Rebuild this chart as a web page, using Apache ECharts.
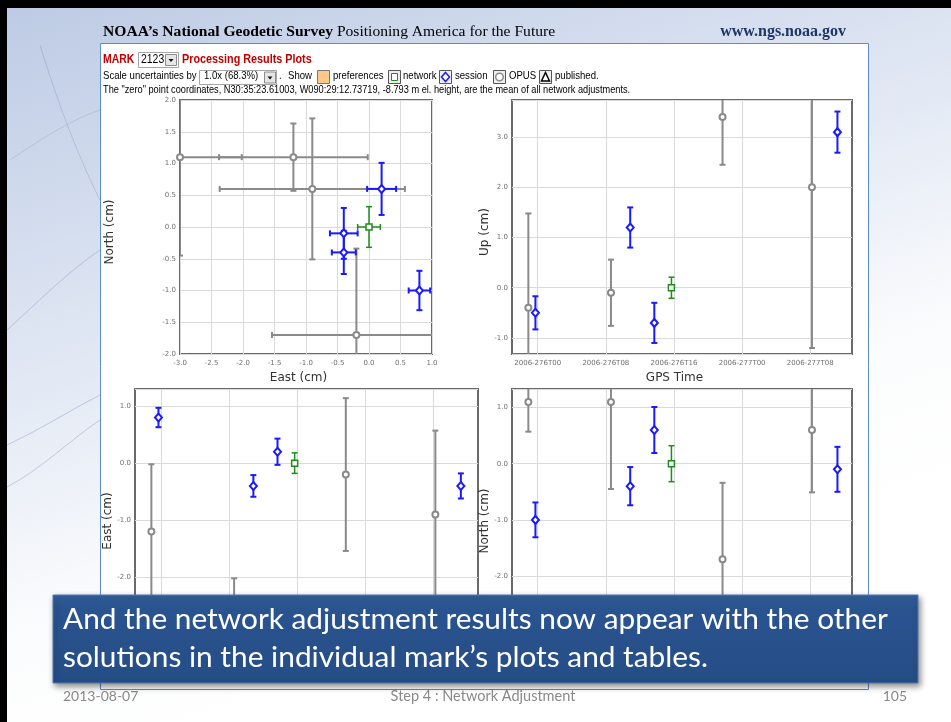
<!DOCTYPE html>
<html lang="en">
<head>
<meta charset="UTF-8" />
<title>MARK 2123 Processing Results Plots</title>
<style>
  html, body { margin: 0; padding: 0; }
  #main { width: 951px; height: 722px; }
</style>
</head>
<body>
<div id="main"></div>
<script src="https://cdn.jsdelivr.net/npm/echarts@6/dist/echarts.min.js"></script>
<script>
var chart = echarts.init(document.getElementById('main'));

// times are hours counted from 2006-276T00
var timeTicks = [0, 8, 16, 24, 32];
var upTicks = [-1, 0, 1, 2, 3];
var enTicks = [-3, -2, -1, 0, 1];

var opusTime = [-1.1, 8.6, 21.7, 32.2];
var opusEast = [-1.2, -3.0, -0.2, -0.9];
var opusNorth = [1.1, 1.1, -1.7, 0.6];
var opusUp = [-0.4, -0.1, 3.4, 2.0];
var opusSigE = [1.18, 0.98, 1.34, 1.47];
var opusSigN = [0.53, 1.55, 1.36, 1.11];
var opusSigU = [1.88, 0.66, 0.95, 3.2];

var sessionTime = [-0.27, 10.86, 13.69, 35.19];
var sessionEast = [0.8, -0.4, 0.2, -0.4];
var sessionNorth = [-1.0, -0.4, 0.6, -0.1];
var sessionUp = [-0.5, 1.2, -0.7, 3.1];
var sessionSigE = [0.17, 0.19, 0.23, 0.22];
var sessionSigN = [0.31, 0.34, 0.41, 0.40];
var sessionSigU = [0.33, 0.40, 0.40, 0.41];

var networkTime = [15.7];
var networkEast = [0.0];
var networkNorth = [0.0];
var networkUp = [0.0];
var networkSigE = [0.18];
var networkSigN = [0.32];
var networkSigU = [0.21];

var kinds = {
    opus: { color: '#8a8a8a', width: 2, symbol: 'circle', size: 6 },
    session: { color: '#1a1aff', width: 2, symbol: 'diamond', size: [7, 8] },
    network: { color: '#1f8c1f', width: 1.5, symbol: 'rect', size: 6 }
};

function zip() {
    var cols = Array.prototype.slice.call(arguments);
    return cols[0].map(function (v, i) {
        return cols.map(function (c) { return c[i]; });
    });
}

function timeLabel(h) {
    var day = 276 + Math.floor(h / 24);
    var hh = h % 24;
    return '2006-' + day + 'T' + (hh < 10 ? '0' : '') + hh;
}

function errorBars(color, width, both) {
    return function (params, api) {
        var x = api.value(0), y = api.value(1);
        var style = { stroke: color, lineWidth: width, fill: null };
        var kids = [];
        function seg(p, q) {
            kids.push({ type: 'line', shape: { x1: p[0], y1: p[1], x2: q[0], y2: q[1] }, style: style });
        }
        var sy = api.value(both ? 3 : 2);
        var lo = api.coord([x, y - sy]), hi = api.coord([x, y + sy]);
        seg(lo, hi);
        seg([lo[0] - 3, lo[1]], [lo[0] + 3, lo[1]]);
        seg([hi[0] - 3, hi[1]], [hi[0] + 3, hi[1]]);
        if (both) {
            var sx = api.value(2);
            var l = api.coord([x - sx, y]), r = api.coord([x + sx, y]);
            seg(l, r);
            seg([l[0], l[1] - 3], [l[0], l[1] + 3]);
            seg([r[0], r[1] - 3], [r[0], r[1] + 3]);
        }
        return { type: 'group', children: kids };
    };
}

function plotSeries(idx, sets, both) {
    var out = [];
    sets.forEach(function (s) {
        var k = kinds[s.kind];
        out.push({
            type: 'custom', xAxisIndex: idx, yAxisIndex: idx, clip: true, silent: true,
            renderItem: errorBars(k.color, k.width, both),
            encode: { x: 0, y: 1 },
            data: s.data
        });
    });
    sets.forEach(function (s) {
        var k = kinds[s.kind];
        out.push({
            type: 'scatter', xAxisIndex: idx, yAxisIndex: idx, silent: true,
            symbol: k.symbol, symbolSize: k.size,
            itemStyle: { color: '#fff', borderColor: k.color, borderWidth: k.width, opacity: 1 },
            data: s.data.map(function (d) { return [d[0], d[1]]; }),
            z: 3
        });
    });
    return out;
}

var labelStyle = { fontFamily: 'DejaVu Sans', fontSize: 7, color: '#707070' };
var nameStyle = { fontFamily: 'DejaVu Sans', fontSize: 12, color: '#333' };
var gridLine = { show: true, lineStyle: { color: '#dadada', width: 1 } };

function timeAxis(idx, max) {
    return {
        type: 'value', gridIndex: idx, min: -3.02, max: max,
        name: 'GPS Time', nameLocation: 'middle', nameGap: 18,
        nameTextStyle: Object.assign({ padding: [0, 15, 0, 0] }, nameStyle),
        axisLine: { show: false }, axisTick: { show: false, customValues: timeTicks },
        axisLabel: Object.assign({ customValues: timeTicks, margin: 6, formatter: timeLabel }, labelStyle),
        splitLine: Object.assign({ customValues: timeTicks }, gridLine)
    };
}

function valAxis(idx, min, max, ticks, name, gap, pad) {
    return {
        type: 'value', gridIndex: idx, min: min, max: max,
        name: name, nameLocation: 'middle', nameGap: gap,
        nameTextStyle: Object.assign({ padding: [0, pad, 0, 0] }, nameStyle),
        axisLine: { show: false }, axisTick: { show: false },
        axisLabel: Object.assign({ customValues: ticks, margin: 4, formatter: function (v) { return v.toFixed(1); } }, labelStyle),
        splitLine: gridLine
    };
}

// page text helpers (the captured web page is slightly squeezed sideways)
function txt(x, base, s, size, weight, color, sx) {
    return {
        type: 'text', x: x, y: base - size * 0.35, scaleX: sx || 0.87, z: -80,
        style: {
            text: s, fill: color, textAlign: 'left', textVerticalAlign: 'middle',
            font: (weight || 'normal') + ' ' + size + 'px "Liberation Sans"'
        }
    };
}
function box(x, y, w, h, fill, stroke) {
    return { type: 'rect', z: -80, shape: { x: x, y: y, width: w, height: h }, style: { fill: fill, stroke: stroke, lineWidth: 1 } };
}
function dropBtn(x, y) {
    return [
        box(x, y, 11, 11, '#e6e6e6', '#8c8c8c'),
        { type: 'polygon', z: -79, shape: { points: [[x + 3, y + 4.5], [x + 8, y + 4.5], [x + 5.5, y + 7.5]] }, style: { fill: '#111' } }
    ];
}
function swoosh(x1, y1, c1x, c1y, c2x, c2y, x2, y2, a) {
    return {
        type: 'bezierCurve', z: -99,
        shape: { x1: x1, y1: y1, cpx1: c1x, cpy1: c1y, cpx2: c2x, cpy2: c2y, x2: x2, y2: y2 },
        style: { stroke: 'rgba(110,130,180,' + a + ')', lineWidth: 1, fill: null }
    };
}

var graphics = [
    { type: 'rect', z: -100, shape: { x: 0, y: 0, width: 951, height: 8 }, style: { fill: '#000' } },
    { type: 'rect', z: -100, shape: { x: 0, y: 0, width: 7, height: 722 }, style: { fill: '#000' } },
    swoosh(7, 330, 40, 300, 70, 270, 100, 250, 0.35),
    swoosh(7, 445, 40, 430, 70, 410, 100, 395, 0.35),
    swoosh(7, 487, 40, 470, 70, 440, 100, 420, 0.35),
    swoosh(40, 45, 60, 110, 80, 160, 100, 200, 0.3),
    swoosh(10, 160, 40, 140, 70, 120, 100, 110, 0.25),
    { type: 'rect', z: -90, shape: { x: 100.5, y: 43.5, width: 768, height: 646 }, style: { fill: '#fff', stroke: '#5b8bd0', lineWidth: 1 } },
    {
        type: 'text', x: 103, y: 32, z: -80,
        style: {
            text: '{a|NOAA’s }{b|National Geodetic Survey}{c| Positioning America for the Future}',
            textVerticalAlign: 'middle',
            rich: {
                a: { fontFamily: 'Liberation Serif', fontSize: 15.6, fontWeight: 'bold', color: '#1e3568' },
                b: { fontFamily: 'Liberation Serif', fontSize: 15.6, fontWeight: 'bold', color: '#7a0b0b' },
                c: { fontFamily: 'Liberation Serif', fontSize: 15.6, color: '#3b5996' }
            }
        }
    },
    { type: 'text', x: 846, y: 32, z: -80, style: { text: 'www.ngs.noaa.gov', textAlign: 'right', textVerticalAlign: 'middle', font: 'bold 16px "Liberation Serif"', fill: '#1e3568' } },

    txt(103, 63.5, 'MARK', 12, 'bold', '#c00000'),
    box(138.5, 52.5, 40, 15, '#fff', '#a5a5a5'),
    txt(141, 63.5, '2123', 12, 'normal', '#000'),
    txt(182, 63.5, 'Processing Results Plots', 12, 'bold', '#c00000', 0.9),

    txt(103, 80, 'Scale uncertainties by', 11, 'normal', '#000'),
    box(199.5, 70.5, 77, 14, '#fff', '#a5a5a5'),
    txt(204, 80, '1.0x (68.3%)', 11, 'normal', '#000'),
    txt(279, 80, '.', 11, 'normal', '#000'),
    txt(288, 80, 'Show', 11, 'normal', '#000'),
    box(317.5, 70.5, 12, 13, '#fcc98a', '#777'),
    txt(333, 80, 'preferences', 11, 'normal', '#000'),
    box(388.5, 70.5, 12, 13, '#eee', '#555'),
    box(391.5, 73.5, 6, 7, '#fff', '#1f8c1f'),
    txt(403, 80, 'network', 11, 'normal', '#000'),
    box(439.5, 70.5, 12, 13, '#eee', '#555'),
    { type: 'polygon', z: -79, shape: { points: [[445.5, 72.5], [449.5, 77], [445.5, 81.5], [441.5, 77]] }, style: { fill: '#fff', stroke: '#1a1aff', lineWidth: 1.5 } },
    txt(455, 80, 'session', 11, 'normal', '#000'),
    box(493.5, 70.5, 12, 13, '#eee', '#555'),
    { type: 'circle', z: -79, shape: { cx: 499.5, cy: 77, r: 3.8 }, style: { fill: '#fff', stroke: '#8a8a8a', lineWidth: 1.5 } },
    txt(509, 80, 'OPUS', 11, 'normal', '#000'),
    box(539.5, 70.5, 12, 13, '#eee', '#555'),
    { type: 'polygon', z: -79, shape: { points: [[545.5, 72.5], [549.5, 81], [541.5, 81]] }, style: { fill: '#fff', stroke: '#000', lineWidth: 1.5 } },
    txt(555, 80, 'published.', 11, 'normal', '#000'),

    txt(103, 93.5, 'The "zero" point coordinates, N30:35:23.61003, W090:29:12.73719, -8.793 m el. height, are the mean of all network adjustments.', 11, 'normal', '#000', 0.838),

    {
        type: 'rect', z: 100, shape: { x: 53, y: 595, width: 865, height: 88 },
        style: {
            fill: { type: 'linear', x: 0, y: 0, x2: 0, y2: 1, colorStops: [{ offset: 0, color: '#33609c' }, { offset: 0.15, color: '#2a5490' }, { offset: 1, color: '#254d86' }] },
            stroke: '#5479b0', lineWidth: 1,
            shadowBlur: 6, shadowColor: 'rgba(0,0,0,0.45)', shadowOffsetX: 2, shadowOffsetY: 3
        }
    },
    { type: 'text', x: 63, y: 620, z: 101, scaleX: 1.065, style: { text: 'And the network adjustment results now appear with the other', fill: '#fff', font: '28px Lato', textVerticalAlign: 'middle' } },
    { type: 'text', x: 63, y: 658, z: 101, scaleX: 1.065, style: { text: 'solutions in the individual mark’s plots and tables.', fill: '#fff', font: '28px Lato', textVerticalAlign: 'middle' } },

    { type: 'text', x: 63, y: 696, z: 50, style: { text: '2013-08-07', fill: '#8a8a8a', font: '14px Lato', textVerticalAlign: 'middle' } },
    { type: 'text', x: 483, y: 696, z: 50, style: { text: 'Step 4 : Network Adjustment', fill: '#8a8a8a', font: '14.5px Lato', textAlign: 'center', textVerticalAlign: 'middle' } },
    { type: 'text', x: 907, y: 696, z: 50, style: { text: '105', fill: '#8a8a8a', font: '14px Lato', textAlign: 'right', textVerticalAlign: 'middle' } }
];
dropBtn(165.5, 54.5).concat(dropBtn(264.5, 72)).forEach(function (g) { g.z = -79; graphics.push(g); });

var frame = { show: true, borderColor: '#6a6a6a', borderWidth: 2, backgroundColor: 'transparent' };

var option = {
    animation: false,
    backgroundColor: {
        type: 'linear', x: 0, y: 0, x2: 0.25, y2: 1,
        colorStops: [
            { offset: 0, color: '#bccae4' },
            { offset: 0.45, color: '#dfe6f3' },
            { offset: 0.8, color: '#fbfcfd' },
            { offset: 1, color: '#ffffff' }
        ]
    },
    textStyle: { fontFamily: 'DejaVu Sans' },
    graphic: { elements: graphics },
    grid: [
        Object.assign({ left: 180, top: 100, width: 252, height: 254 }, frame),
        Object.assign({ left: 512, top: 100, width: 340, height: 254 }, frame),
        Object.assign({ left: 135, top: 389, width: 343, height: 264 }, frame),
        Object.assign({ left: 512, top: 389, width: 340, height: 264 }, frame)
    ],
    xAxis: [
        {
            type: 'value', gridIndex: 0, min: -3, max: 1, interval: 0.5,
            name: 'East (cm)', nameLocation: 'middle', nameGap: 18,
            nameTextStyle: Object.assign({ padding: [0, 15, 0, 0] }, nameStyle),
            axisLine: { show: false }, axisTick: { show: false },
            axisLabel: Object.assign({ margin: 6, formatter: function (v) { return v.toFixed(1); } }, labelStyle),
            splitLine: gridLine
        },
        timeAxis(1, 36.9),
        timeAxis(2, 37.2),
        timeAxis(3, 36.9)
    ],
    yAxis: [
        {
            type: 'value', gridIndex: 0, min: -2, max: 2, interval: 0.5,
            name: 'North (cm)', nameLocation: 'middle', nameGap: 64,
            nameTextStyle: Object.assign({ padding: [0, 10, 0, 0] }, nameStyle),
            axisLine: { show: false }, axisTick: { show: false },
            axisLabel: Object.assign({ margin: 4, formatter: function (v) { return v.toFixed(1); } }, labelStyle),
            splitLine: gridLine
        },
        valAxis(1, -1.32, 3.74, upTicks, 'Up (cm)', 19, 10),
        valAxis(2, -3.33, 1.30, enTicks, 'East (cm)', 19, 0),
        valAxis(3, -3.37, 1.33, enTicks, 'North (cm)', 18, 0)
    ],
    series: [].concat(
        plotSeries(0, [
            { kind: 'opus', data: zip(opusEast, opusNorth, opusSigE, opusSigN) },
            { kind: 'session', data: zip(sessionEast, sessionNorth, sessionSigE, sessionSigN) },
            { kind: 'network', data: zip(networkEast, networkNorth, networkSigE, networkSigN) }
        ], true),
        plotSeries(1, [
            { kind: 'opus', data: zip(opusTime, opusUp, opusSigU) },
            { kind: 'session', data: zip(sessionTime, sessionUp, sessionSigU) },
            { kind: 'network', data: zip(networkTime, networkUp, networkSigU) }
        ], false),
        plotSeries(2, [
            { kind: 'opus', data: zip(opusTime, opusEast, opusSigE) },
            { kind: 'session', data: zip(sessionTime, sessionEast, sessionSigE) },
            { kind: 'network', data: zip(networkTime, networkEast, networkSigE) }
        ], false),
        plotSeries(3, [
            { kind: 'opus', data: zip(opusTime, opusNorth, opusSigN) },
            { kind: 'session', data: zip(sessionTime, sessionNorth, sessionSigN) },
            { kind: 'network', data: zip(networkTime, networkNorth, networkSigN) }
        ], false)
    )
};

chart.setOption(option);
window.addEventListener('resize', function () {
    chart.resize();
});
</script>
</body>
</html>
